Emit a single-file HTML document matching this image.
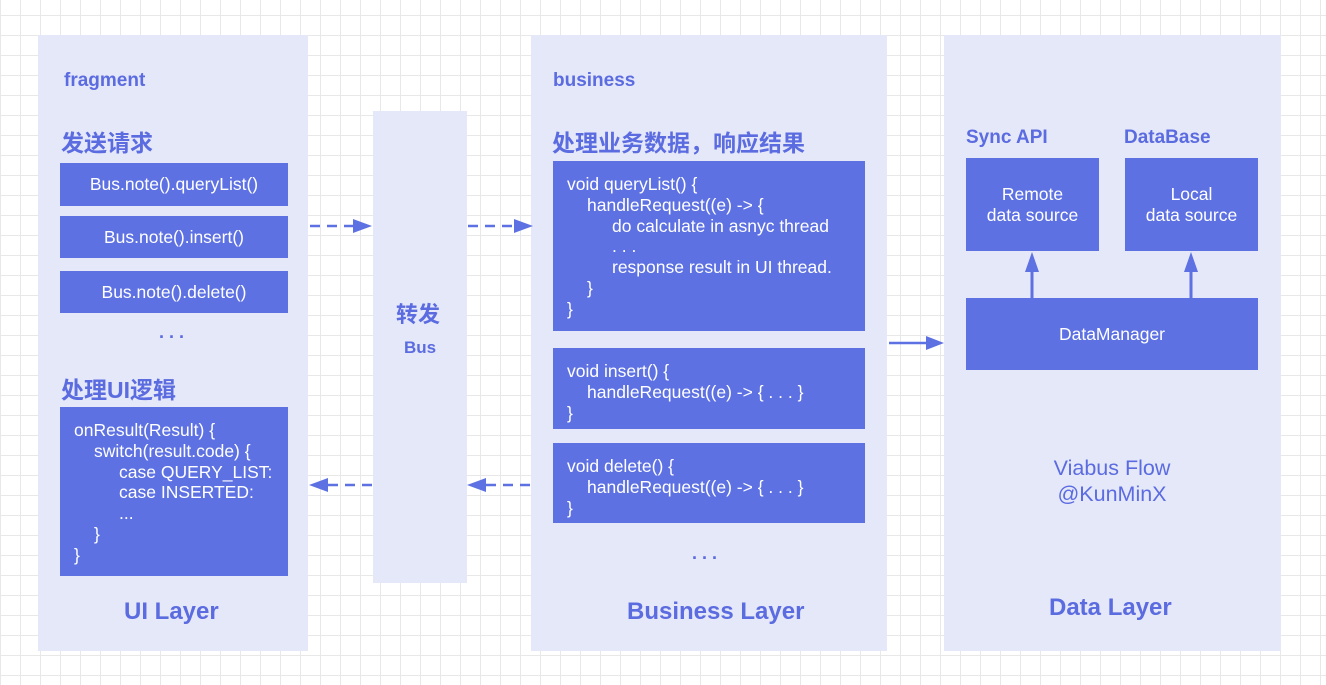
<!DOCTYPE html>
<html><head><meta charset="utf-8"><style>
html,body{margin:0;padding:0}
body{width:1326px;height:685px;overflow:hidden;background:#fff;
background-image:linear-gradient(#e8e8e8 1px,transparent 1px),linear-gradient(90deg,#e8e8e8 1px,transparent 1px);
background-size:20px 20px;background-position:0 15px,0 0;
font-family:"Liberation Sans","Noto Sans CJK SC",sans-serif;position:relative}
.p{position:absolute;background:#e5e8f9}
.b{position:absolute;background:#5d71e3;color:#fff;font-size:17.5px;box-sizing:border-box}
.c{display:flex;align-items:center;justify-content:center;text-align:center}
.t{position:absolute;color:#5b6be0;font-weight:bold;white-space:nowrap}
.code{padding:13px 0 0 14px;line-height:20.8px;white-space:nowrap;font-size:17.5px}
.i1{margin-left:20px}.i2{margin-left:45px}
svg{position:absolute;left:0;top:0}
</style></head><body>
<div class="p" style="left:38px;top:35px;width:270px;height:616px"></div>
<div class="p" style="left:373px;top:111px;width:94px;height:472px"></div>
<div class="p" style="left:531px;top:35px;width:356px;height:616px"></div>
<div class="p" style="left:944px;top:35px;width:337px;height:616px"></div>

<div class="t" style="left:64px;top:70px;font-size:19px">fragment</div>
<div class="t" style="left:61px;top:124px;font-size:23px">发送请求</div>
<div class="b c" style="left:60px;top:163px;width:228px;height:43px">Bus.note().queryList()</div>
<div class="b c" style="left:60px;top:216px;width:228px;height:42px">Bus.note().insert()</div>
<div class="b c" style="left:60px;top:271px;width:228px;height:42px">Bus.note().delete()</div>
<div class="t" style="left:159px;top:322px;font-size:18px">. . .</div>
<div class="t" style="left:61px;top:371px;font-size:23px">处理UI逻辑</div>
<div class="b code" style="left:60px;top:407px;width:228px;height:169px">
<div>onResult(Result) {</div><div class="i1">switch(result.code) {</div><div class="i2">case QUERY_LIST:</div><div class="i2">case INSERTED:</div><div class="i2">...</div><div class="i1">}</div><div>}</div></div>
<div class="t" style="left:124px;top:598px;font-size:24px">UI Layer</div>

<div class="t" style="left:396px;top:297px;font-size:22px">转发</div>
<div class="t" style="left:404px;top:338px;font-size:17px">Bus</div>

<div class="t" style="left:553px;top:70px;font-size:19px">business</div>
<div class="t" style="left:552px;top:124px;font-size:23px">处理业务数据，响应结果</div>
<div class="b code" style="left:553px;top:161px;width:312px;height:170px">
<div>void queryList() {</div><div class="i1">handleRequest((e) -&gt; {</div><div class="i2">do calculate in asnyc thread</div><div class="i2">. . .</div><div class="i2">response result in UI thread.</div><div class="i1">}</div><div>}</div></div>
<div class="b code" style="left:553px;top:348px;width:312px;height:81px">
<div>void insert() {</div><div class="i1">handleRequest((e) -&gt; { . . . }</div><div>}</div></div>
<div class="b code" style="left:553px;top:443px;width:312px;height:80px">
<div>void delete() {</div><div class="i1">handleRequest((e) -&gt; { . . . }</div><div>}</div></div>
<div class="t" style="left:692px;top:543px;font-size:18px">. . .</div>
<div class="t" style="left:627px;top:598px;font-size:24px">Business Layer</div>

<div class="t" style="left:966px;top:127px;font-size:19px">Sync API</div>
<div class="t" style="left:1124px;top:127px;font-size:19px">DataBase</div>
<div class="b c" style="left:966px;top:158px;width:133px;height:93px">Remote<br>data source</div>
<div class="b c" style="left:1125px;top:158px;width:133px;height:93px">Local<br>data source</div>
<div class="b c" style="left:966px;top:298px;width:292px;height:72px">DataManager</div>
<div class="t" style="left:1000px;width:224px;top:455px;font-size:21.5px;font-weight:normal;text-align:center;line-height:26px">Viabus Flow<br>@KunMinX</div>
<div class="t" style="left:1049px;top:594px;font-size:24px">Data Layer</div>

<svg width="1326" height="685">
<g stroke="#5d71e3" stroke-width="2.5" fill="none" stroke-dasharray="10,7">
<line x1="310" y1="226" x2="356" y2="226"/>
<line x1="468" y1="226" x2="516" y2="226"/>
<line x1="530" y1="485" x2="484" y2="485"/>
<line x1="372" y1="485" x2="326" y2="485"/>
</g>
<g fill="#5d71e3">
<polygon points="372,226 353,219 353,233"/>
<polygon points="533,226 514,219 514,233"/>
<polygon points="467,485 486,478 486,492"/>
<polygon points="309,485 328,478 328,492"/>
<polygon points="944,343 926,336 926,350"/>
<polygon points="1032,252 1025,272 1039,272"/>
<polygon points="1191,252 1184,272 1198,272"/>
</g>
<g stroke="#5d71e3" stroke-width="3">
<line x1="889" y1="343" x2="928" y2="343" stroke-width="2.5"/>
<line x1="1032" y1="270" x2="1032" y2="298"/>
<line x1="1191" y1="270" x2="1191" y2="298"/>
</g>
</svg>
</body></html>
